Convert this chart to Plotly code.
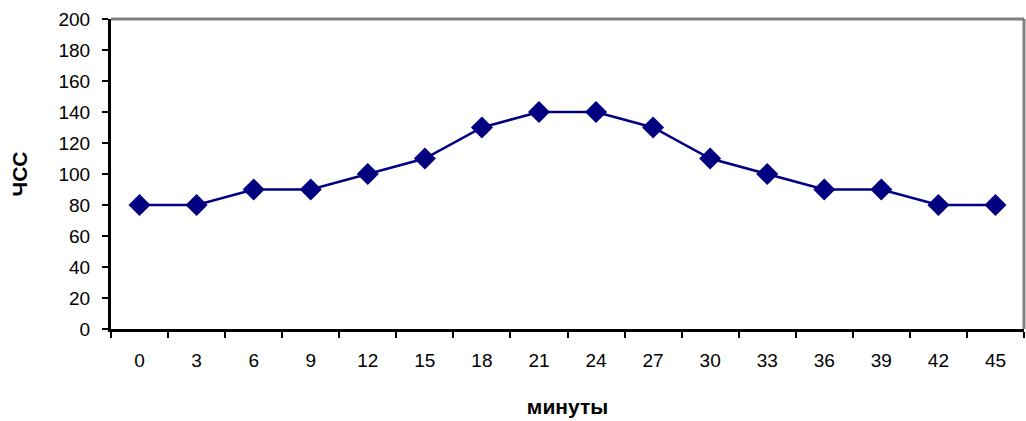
import plotly.graph_objects as go

minutes = ["0", "3", "6", "9", "12", "15", "18", "21", "24", "27", "30", "33", "36", "39", "42", "45"]
hr = [80, 80, 90, 90, 100, 110, 130, 140, 140, 130, 110, 100, 90, 90, 80, 80]

fig = go.Figure()
fig.add_trace(go.Scatter(
    x=minutes, y=hr, mode="lines+markers",
    line=dict(color="#000080", width=2.5),
    marker=dict(symbol="diamond", size=17, color="#000080"),
    showlegend=False,
))

font = dict(family="Liberation Sans, Arial, sans-serif", size=19, color="black")

fig.update_layout(
    width=1026, height=421,
    margin=dict(l=111, r=2, t=19, b=92),
    paper_bgcolor="white", plot_bgcolor="white",
    font=font,
    xaxis=dict(
        type="category", tickson="boundaries",
        showline=True, linecolor="black", linewidth=3,
        ticks="outside", ticklen=6, tickwidth=2, tickcolor="black",
        showgrid=False, zeroline=False,
        title=dict(text="<b>минуты</b>", font=dict(size=21), standoff=30),
        tickfont=dict(size=19), ticklabelstandoff=12, range=[-0.5, 15.5],
    ),
    yaxis=dict(
        range=[0, 200], dtick=20,
        showline=True, linecolor="black", linewidth=3,
        ticks="outside", ticklen=6, tickwidth=2, tickcolor="black",
        showgrid=False, zeroline=False,
        title=dict(text="<b>ЧСС</b>", font=dict(size=21), standoff=26),
        tickfont=dict(size=19), ticklabelstandoff=8,
    ),
    shapes=[
        dict(type="line", xref="paper", yref="paper", x0=0, x1=1, y0=1, y1=1,
             line=dict(color="#808080", width=3)),
        dict(type="line", xref="paper", yref="paper", x0=1, x1=1, y0=0, y1=1,
             line=dict(color="#808080", width=3)),
    ],
)

fig.write_html("out.html", config={"displayModeBar": False},
               post_script="document.body.style.margin='0px';")
